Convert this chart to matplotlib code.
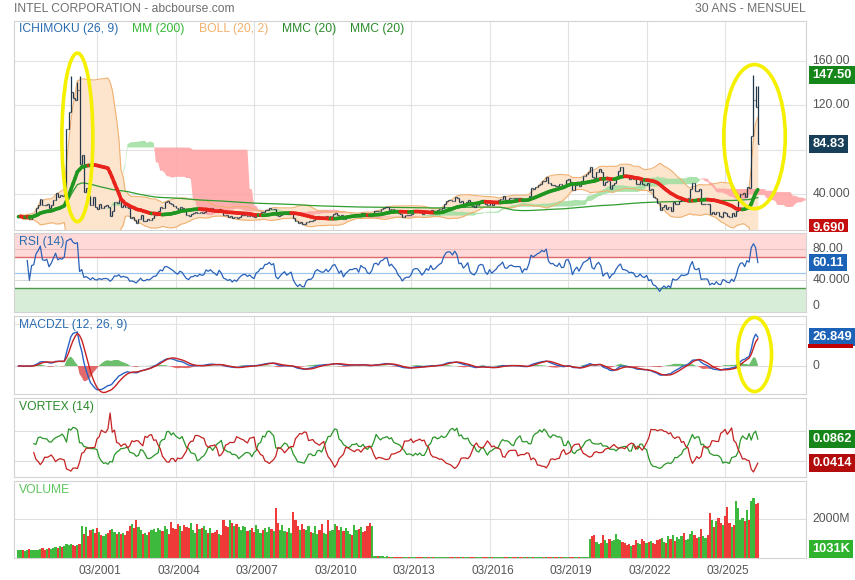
import numpy as np
import pandas as pd
import matplotlib
matplotlib.use("Agg")
import matplotlib.pyplot as plt
import matplotlib.transforms as mtrans
from matplotlib.patches import Ellipse, Rectangle
from matplotlib.collections import LineCollection

plt.rcParams['font.family'] = ['Liberation Sans', 'DejaVu Sans']

# ---------------- data (monthly, first bar = 03/1998) ----------------
START_YEAR, START_MONTH = 1998, 3

close_1998 = [19.5, 20.2, 17.9, 18.5, 21.1, 17.8, 21.4, 21.7, 26.9, 29.6]
close_1999 = [35.2, 30.0, 29.7, 30.6, 27.1, 29.8, 34.5, 41.1, 37.2, 38.7, 38.4, 41.2]
close_2000 = [98.9, 113.6, 131.9, 126.8, 124.9, 133.7, 66.8, 74.9, 41.6, 45.0, 38.1, 30.1]
close_2001 = [37.0, 28.6, 26.3, 30.9, 27.0, 29.3, 29.8, 28.0, 20.4, 24.4, 32.7, 31.5]
close_2002 = [35.0, 28.6, 30.4, 28.6, 27.6, 18.3, 18.8, 16.7, 13.9, 17.3, 20.9, 15.6]
close_2003 = [15.7, 17.3, 16.3, 18.4, 20.8, 20.8, 24.9, 28.6, 27.5, 33.0, 33.4, 32.1]
close_2004 = [30.6, 29.2, 27.2, 25.7, 28.6, 27.6, 24.4, 21.3, 20.1, 22.3, 22.4, 23.4]
close_2005 = [22.5, 24.0, 23.2, 23.5, 26.9, 26.0, 27.1, 25.7, 24.7, 23.5, 26.7, 24.9]
close_2006 = [21.3, 20.6, 19.4, 20.0, 18.0, 19.0, 18.0, 19.5, 20.6, 21.3, 21.4, 20.3]
close_2007 = [21.0, 19.8, 19.1, 21.5, 22.2, 23.7, 23.6, 25.8, 25.9, 26.9, 26.1, 26.7]
close_2008 = [21.2, 19.9, 21.2, 22.3, 23.2, 21.5, 22.2, 22.9, 18.7, 16.0, 13.8, 14.7]
close_2009 = [12.9, 12.7, 15.0, 15.8, 15.7, 16.6, 19.3, 20.3, 19.6, 19.1, 19.2, 20.4]
close_2010 = [19.4, 20.5, 22.3, 22.8, 21.4, 19.5, 20.6, 17.7, 19.2, 20.1, 21.1, 21.0]
close_2011 = [21.5, 21.5, 20.2, 23.2, 22.5, 22.2, 20.5, 20.1, 21.3, 24.5, 24.9, 24.3]
close_2012 = [26.4, 26.9, 28.1, 28.4, 25.8, 26.7, 25.7, 24.8, 22.7, 21.6, 19.6, 20.6]
close_2013 = [21.0, 20.9, 21.8, 23.9, 24.3, 24.2, 23.3, 22.0, 22.9, 24.4, 23.8, 25.9]
close_2014 = [24.5, 24.8, 25.8, 26.7, 27.3, 30.9, 33.9, 34.9, 34.8, 34.0, 37.3, 36.3]
close_2015 = [33.0, 33.3, 31.3, 32.6, 34.5, 30.4, 29.0, 28.5, 30.1, 33.9, 34.8, 34.5]
close_2016 = [31.0, 29.6, 32.4, 30.3, 31.6, 32.8, 34.9, 35.9, 37.8, 34.9, 34.7, 36.3]
close_2017 = [36.8, 36.2, 36.1, 36.2, 36.1, 33.7, 35.5, 35.1, 38.1, 45.5, 44.8, 46.2]
close_2018 = [48.1, 49.3, 52.1, 51.6, 55.2, 49.7, 48.1, 48.4, 47.3, 46.9, 49.3, 46.9]
close_2019 = [47.1, 53.0, 53.7, 51.0, 44.0, 47.9, 50.6, 47.4, 51.5, 56.5, 58.1, 59.9]
close_2020 = [63.9, 55.5, 54.1, 60.0, 62.9, 59.8, 47.7, 50.9, 51.8, 44.3, 48.4, 49.8]
close_2021 = [55.5, 60.8, 64.0, 57.5, 57.1, 56.1, 53.7, 54.1, 53.3, 49.0, 49.2, 51.5]
close_2022 = [48.8, 47.7, 49.6, 43.6, 44.4, 37.4, 36.3, 31.9, 25.8, 28.4, 30.1, 26.4]
close_2023 = [28.3, 24.9, 32.7, 31.1, 31.4, 33.4, 35.8, 35.1, 35.6, 36.5, 44.7, 50.3]
close_2024 = [43.1, 42.6, 44.2, 30.5, 30.9, 31.0, 30.7, 21.9, 23.5, 21.5, 24.0, 20.1]
close_2025 = [19.4, 23.8, 22.7, 20.1, 19.6, 22.4, 19.8, 24.4, 33.6, 40.0, 40.6, 36.9]
close_2026 = [46.5, 45.0, 92.0, 125.0, 118.0, 84.83]

# extra intramonth highs visible as long wicks (month index -> high)
wick_high = {24: 146.0, 27: 141.0, 28: 146.0, 337: 147.5, 338: 137.0, 339: 137.0}

vol_1998 = [420, 380, 400, 350, 420, 450, 400, 430, 380, 400]
vol_1999 = [450, 500, 420, 480, 520, 450, 500, 560, 520, 600, 550, 620]
vol_2000 = [700, 650, 720, 680, 600, 640, 720, 1600, 1200, 1550, 1100, 1400]
vol_2001 = [1450, 1250, 1500, 1300, 1150, 1100, 1200, 1250, 1400, 1450, 1300, 1200]
vol_2002 = [1300, 1200, 1250, 1150, 1350, 1600, 1700, 1500, 1900, 1550, 1400, 1200]
vol_2003 = [1250, 1150, 1300, 1400, 1450, 1300, 1500, 1400, 1350, 1600, 1450, 1200]
vol_2004 = [1800, 1500, 1450, 1700, 1600, 1350, 1650, 1550, 1500, 1750, 1400, 1250]
vol_2005 = [1700, 1450, 1500, 1600, 1400, 1250, 1500, 1250, 1300, 1400, 1200, 1150]
vol_2006 = [1950, 1600, 1550, 1900, 1750, 1600, 1700, 1550, 1400, 1600, 1550, 1350]
vol_2007 = [1400, 1500, 1300, 1650, 1450, 1250, 1400, 1500, 1300, 1550, 1450, 1350]
vol_2008 = [2550, 1750, 1400, 1650, 1350, 1300, 1500, 1250, 2350, 1900, 1600, 1400]
vol_2009 = [1700, 1450, 1400, 1600, 1300, 1250, 1600, 1200, 1400, 1700, 1250, 1200]
vol_2010 = [1900, 1350, 1400, 1700, 1600, 1400, 1550, 1350, 1500, 1350, 1200, 1150]
vol_2011 = [1650, 1400, 1450, 1550, 1300, 1350, 1600, 1750, 1600, 110, 95, 90]
vol_2012 = [90, 80, 75, 80, 70, 65, 60, 65, 70, 60, 65, 60]
vol_2013 = [60, 55, 58, 60, 55, 52, 55, 50, 52, 54, 50, 52]
vol_2014 = [50, 48, 52, 50, 48, 50, 52, 48, 50, 55, 48, 46]
vol_2015 = [52, 48, 50, 48, 46, 50, 52, 54, 50, 48, 46, 45]
vol_2016 = [50, 48, 46, 48, 45, 46, 44, 45, 46, 48, 45, 44]
vol_2017 = [45, 44, 46, 45, 44, 45, 46, 48, 45, 50, 48, 46]
vol_2018 = [52, 50, 48, 50, 46, 48, 50, 48, 46, 50, 48, 46]
vol_2019 = [48, 46, 48, 50, 52, 48, 46, 50, 46, 48, 46, 45]
vol_2020 = [950, 1100, 1150, 800, 700, 750, 1150, 900, 750, 950, 850, 900]
vol_2021 = [1200, 950, 900, 800, 750, 650, 700, 600, 650, 900, 750, 700]
vol_2022 = [950, 850, 750, 800, 850, 750, 700, 900, 950, 1000, 800, 750]
vol_2023 = [1100, 950, 1150, 850, 1050, 950, 1100, 1250, 900, 950, 1200, 1350]
vol_2024 = [1150, 1000, 1050, 1450, 1100, 1000, 1150, 2300, 1900, 1550, 1850, 2050]
vol_2025 = [1750, 1650, 2150, 2600, 1750, 1550, 1650, 2900, 2550, 1950, 2050, 1850]
vol_2026 = [2450, 1950, 2900, 3050, 2750, 2800]

close = np.array(close_1998 + close_1999 + close_2000 + close_2001 + close_2002 + close_2003 +
                 close_2004 + close_2005 + close_2006 + close_2007 + close_2008 + close_2009 +
                 close_2010 + close_2011 + close_2012 + close_2013 + close_2014 + close_2015 +
                 close_2016 + close_2017 + close_2018 + close_2019 + close_2020 + close_2021 +
                 close_2022 + close_2023 + close_2024 + close_2025 + close_2026)
volume = np.array(vol_1998 + vol_1999 + vol_2000 + vol_2001 + vol_2002 + vol_2003 + vol_2004 +
                  vol_2005 + vol_2006 + vol_2007 + vol_2008 + vol_2009 + vol_2010 + vol_2011 +
                  vol_2012 + vol_2013 + vol_2014 + vol_2015 + vol_2016 + vol_2017 + vol_2018 +
                  vol_2019 + vol_2020 + vol_2021 + vol_2022 + vol_2023 + vol_2024 + vol_2025 +
                  vol_2026, dtype=float)

# texts shown in the value boxes on the right
rsi_last_txt = '60.11'
macd_last_txt = '26.849'
vip_last_txt = '0.0862'
vim_last_txt = '0.0414'
vol_last_txt = '1031K'
low_txt = '9.690'
low_val = 9.69

n = len(close)
months = np.arange(n)
c = pd.Series(close)
o = c.shift(1).fillna(c.iloc[0])
h = pd.Series(np.maximum(o.values, c.values))
l = pd.Series(np.minimum(o.values, c.values))
for k, v in wick_high.items():
    h.iloc[k] = max(h.iloc[k], v)

# ---------------- indicators ----------------
sma20 = c.rolling(20, min_periods=1).mean()
std20 = c.rolling(20, min_periods=1).std(ddof=0)
boll_up = sma20 + 2 * std20
boll_dn = sma20 - 2 * std20
mm200 = c.rolling(200, min_periods=1).mean()

tenkan = (h.rolling(9, min_periods=1).max() + l.rolling(9, min_periods=1).min()) / 2
kijun = (h.rolling(26, min_periods=1).max() + l.rolling(26, min_periods=1).min()) / 2
spanA_raw = (tenkan + kijun) / 2
spanB_raw = (h.rolling(52, min_periods=1).max() + l.rolling(52, min_periods=1).min()) / 2
SHIFT = 26
ext = np.arange(n + SHIFT)
spanA = np.full(n + SHIFT, np.nan)
spanB = np.full(n + SHIFT, np.nan)
spanA[SHIFT:] = spanA_raw.values
spanB[SHIFT:] = spanB_raw.values

delta = c.diff().fillna(0)
gain = delta.clip(lower=0)
loss = -delta.clip(upper=0)
ag = gain.ewm(alpha=1 / 14, adjust=True).mean()
al = loss.ewm(alpha=1 / 14, adjust=True).mean()
rsi = 100 - 100 / (1 + ag / al.replace(0, np.nan))
rsi = rsi.fillna(60)


def ema(s, span):
    return s.ewm(span=span, adjust=False).mean()


def zlema(s, span):
    e1 = ema(s, span)
    e2 = ema(e1, span)
    return 2 * e1 - e2


macd = zlema(c, 12) - zlema(c, 26)
signal = zlema(macd, 9)
hist = macd - signal

hp, lp, cp = h.shift(1), l.shift(1), c.shift(1)
tr = pd.concat([h - l, (h - cp).abs(), (l - cp).abs()], axis=1).max(axis=1)
vmp = (h - lp).abs()
vmm = (l - hp).abs()
vip = vmp.rolling(14, min_periods=1).sum() / tr.rolling(14, min_periods=1).sum()
vim = vmm.rolling(14, min_periods=1).sum() / tr.rolling(14, min_periods=1).sum()

# ---------------- figure layout ----------------
W, H = 855, 580
fig = plt.figure(figsize=(W / 100, H / 100), dpi=100)
L, R = 14, 806


def add_panel(top, bottom):
    return fig.add_axes([L / W, 1 - bottom / H, (R - L) / W, (bottom - top) / H])


ax_main = add_panel(21, 230)
ax_rsi = add_panel(233, 312)
ax_macd = add_panel(316, 394)
ax_vtx = add_panel(398, 477)
ax_vol = add_panel(481, 558)
axes = [ax_main, ax_rsi, ax_macd, ax_vtx, ax_vol]

tick_idx = list(range(36, n, 36))
tick_lab = []
for t in tick_idx:
    m0 = START_MONTH - 1 + t
    tick_lab.append(f"{m0 % 12 + 1:02d}/{START_YEAR + m0 // 12}")

XMIN, XMAX = -2.06, 361.1
GRID = '#e2e2e2'
FS = 8.7
for ax in axes:
    ax.set_xlim(XMIN, XMAX)
    ax.set_xticks(tick_idx)
    ax.set_xticklabels([])
    ax.set_yticks([])
    ax.tick_params(length=0)
    for sp in ax.spines.values():
        sp.set_color('#d3d3d3')
        sp.set_linewidth(0.8)
    for t in tick_idx:
        ax.axvline(t, color=GRID, lw=0.8, zorder=0)
ax_vol.set_xticklabels(tick_lab, fontsize=8.5, color='#555555')
ax_vol.tick_params(axis='x', pad=5)
shift_tr = mtrans.ScaledTranslation(3 / 100, 0, fig.dpi_scale_trans)
for lab in ax_vol.get_xticklabels():
    lab.set_transform(lab.get_transform() + shift_tr)


def rlabel(ax, val, s, color='#555555', box=None, va='center', size=FS):
    tr_ = mtrans.blended_transform_factory(ax.transAxes, ax.transData)
    if box:
        return ax.text(1.008, val, s, transform=tr_, ha='left', va=va, fontsize=size,
                       color='white', fontweight='bold', clip_on=False, zorder=12,
                       bbox=dict(boxstyle='square,pad=0.22', fc=box, ec='none'))
    return ax.text(1.008, val, s, transform=tr_, ha='left', va=va, fontsize=size,
                   color=color, clip_on=False)


def panel_title(ax, s, color):
    ax.text(0.006, 0.96, s, transform=ax.transAxes, ha='left', va='top',
            fontsize=FS, color=color, zorder=10)


# ---------------- main price panel ----------------
ax = ax_main
ax.set_ylim(7.5, 196)
for g in [40, 80, 120, 160]:
    ax.axhline(g, color=GRID, lw=0.8, zorder=0)
ax.fill_between(months, boll_dn, boll_up, color='#fde4cd', lw=0, zorder=1)
ax.fill_between(ext, spanA, spanB, where=spanA >= spanB, interpolate=True,
                color='#9edf9e', alpha=0.85, lw=0, zorder=2)
ax.fill_between(ext, spanA, spanB, where=spanA < spanB, interpolate=True,
                color='#ffa6a6', alpha=0.9, lw=0, zorder=2)
ax.plot(months, boll_up, color='#f0b171', lw=0.8, zorder=3)
ax.plot(months, boll_dn, color='#f0b171', lw=0.8, zorder=3)
ax.plot(months, mm200, color='#2f9e2f', lw=0.9, zorder=3)
bar_col = '#22384a'
ax.vlines(months, l, h, color=bar_col, lw=0.9, zorder=4)
ax.hlines(o, months - 0.45, months, color=bar_col, lw=0.9, zorder=4)
ax.hlines(c, months, months + 0.45, color=bar_col, lw=0.9, zorder=4)
pts = np.column_stack([months, sma20.values])
segs = np.stack([pts[:-1], pts[1:]], axis=1)
cols = np.where(np.diff(sma20.values) >= 0, '#1f961f', '#e8231c')
ax.add_collection(LineCollection(segs, colors=cols, linewidths=2.6,
                                 capstyle='round', zorder=5))

rlabel(ax, 160, '160.00')
rlabel(ax, 120, '120.00')
rlabel(ax, 40, '40.000')
rlabel(ax, h.max(), f"{h.max():.2f}", box='#17861a', size=9.3)
rlabel(ax, close[-1], f"{close[-1]:.2f}", box='#173f5a', size=9.3)
low_lab = rlabel(ax, low_val, low_txt, box='#c40d0d', size=9.3)
low_lab.set_clip_box(mtrans.Bbox([[0, H - 231.5], [W, H]]))
low_lab.set_clip_on(True)

ax.add_patch(Ellipse((27.0, 91.0), 14.2, 152, fill=False, ec='#f4f000', lw=2.6,
                     zorder=8, clip_on=False))
ax.add_patch(Ellipse((337.5, 91.7), 28.2, 130, fill=False, ec='#f4f000', lw=2.6,
                     zorder=8, clip_on=False))


# legend / header texts (figure pixel positions)
def ftext(x, y, s, color, size=FS, ha='left'):
    fig.text(x / W, 1 - y / H, s, color=color, fontsize=size, ha=ha, va='center')


ftext(14, 9, 'INTEL CORPORATION - abcbourse.com', '#6f6f6f', 8.7)
ftext(806, 9, '30 ANS - MENSUEL', '#6f6f6f', 8.7, ha='right')
ftext(19, 29, 'ICHIMOKU (26, 9)', '#2b6cb0')
ftext(132, 29, 'MM (200)', '#33b833')
ftext(199, 29, 'BOLL (20, 2)', '#f2b06a')
ftext(282, 29, 'MMC (20)', '#2a8a2a')
ftext(350, 29, 'MMC (20)', '#2a8a2a')

# ---------------- RSI ----------------
ax = ax_rsi
ax.set_ylim(0, 100)
ax.axhspan(70, 100, color='#ffd8d8', lw=0, zorder=0.5)
ax.axhspan(0, 30, color='#d8edd8', lw=0, zorder=0.5)
ax.axhline(80, color='#e8bcbc', lw=0.7, zorder=1)
ax.axhline(40, color='#d8d8d8', lw=0.7, zorder=1)
ax.axhline(70, color='#de6a6a', lw=1.0, zorder=1)
ax.axhline(30, color='#4d9a4d', lw=1.0, zorder=1)
ax.axhline(50, color='#9cc6ec', lw=0.9, zorder=1)
ax.plot(months[4:], rsi.values[4:], color='#2a62b8', lw=0.9, zorder=3)
panel_title(ax, 'RSI (14)', '#2b6cb0')
rlabel(ax, 80, '80.00')
rlabel(ax, 40, '40.000')
rlabel(ax, 0, '0', va='bottom')
rlabel(ax, rsi.values[-1], rsi_last_txt, box='#1c63b7', size=9.3)

# ---------------- MACD ----------------
ax = ax_macd
mn, mx = macd.min(), max(macd.max(), signal.max())
s_ = max(abs(mn) / 26.0, mx / 34.0)
ax.set_ylim(-28 * s_, 50 * s_)
ax.axhline(0, color='#dcdcdc', lw=0.8, zorder=0)
ax.axhline(42 * s_, color='#e4e4e4', lw=0.8, zorder=0)
hv = hist.values
ax.fill_between(months, 0, hv, where=hv >= 0, interpolate=True, color='#5cb85c',
                alpha=0.9, lw=0, zorder=1)
ax.fill_between(months, 0, hv, where=hv < 0, interpolate=True, color='#e05a5a',
                alpha=0.9, lw=0, zorder=1)
ax.plot(months, macd, color='#2b63c6', lw=1.0, zorder=3)
ax.plot(months, signal, color='#c92020', lw=1.0, zorder=3)
panel_title(ax, 'MACDZL (12, 26, 9)', '#2b6cb0')
rlabel(ax, 0, '0')
blue_lab = rlabel(ax, macd.values[-1], macd_last_txt, box='#1c63b7', size=9.3)
# red strip of the (hidden) signal box just under the MACD box
ydisp = ax.transData.transform((0, macd.values[-1]))[1]
fig.patches.append(Rectangle(((R + 2) / W, (ydisp - 11) / H), 45 / W, 4 / H,
                             transform=fig.transFigure, fc='#c00000', ec='none',
                             zorder=1))
tr_m = mtrans.blended_transform_factory(ax.transData, ax.transAxes)
ax.add_patch(Ellipse((337.5, 0.506), 15.6, 0.95, transform=tr_m, fill=False,
                     ec='#f4f000', lw=2.6, zorder=8, clip_on=False))

# ---------------- VORTEX ----------------
ax = ax_vtx
both = np.r_[vip.values[14:], vim.values[14:]]
vmn, vmx = np.nanmin(both), np.nanmax(both)
span = vmx - vmn
vlo, vhi = vmn - span * 5 / 59, vmx + span * 15 / 59
ax.set_ylim(vlo, vhi)
ax.axhline(vlo + 0.582 * (vhi - vlo), color='#dedede', lw=0.8, zorder=0)
ax.axhline(vlo + 0.203 * (vhi - vlo), color='#dedede', lw=0.8, zorder=0)
ax.plot(months[7:], vip.values[7:], color='#2a962a', lw=0.9, zorder=3)
ax.plot(months[7:], vim.values[7:], color='#c42222', lw=0.9, zorder=3)
panel_title(ax, 'VORTEX (14)', '#2a8a2a')
rlabel(ax, vip.values[-1], vip_last_txt, box='#17861a', size=9.3)
rlabel(ax, vim.values[-1], vim_last_txt, box='#b30c0c', size=9.3)

# ---------------- VOLUME ----------------
ax = ax_vol
ax.set_ylim(0, 3900)
ax.axhline(2000, color='#dedede', lw=0.8, zorder=0)
up = c.values >= o.values
vcol = np.where(up, '#3dba3d', '#ef3a3a')
ax.bar(months, volume, width=1.0, color=vcol, lw=0, zorder=2)
panel_title(ax, 'VOLUME', '#5cc45c')
rlabel(ax, 2000, '2000M')
rlabel(ax, 450, vol_last_txt, box='#2fb32f', size=9.3)

fig.savefig('out.png', dpi=100)
